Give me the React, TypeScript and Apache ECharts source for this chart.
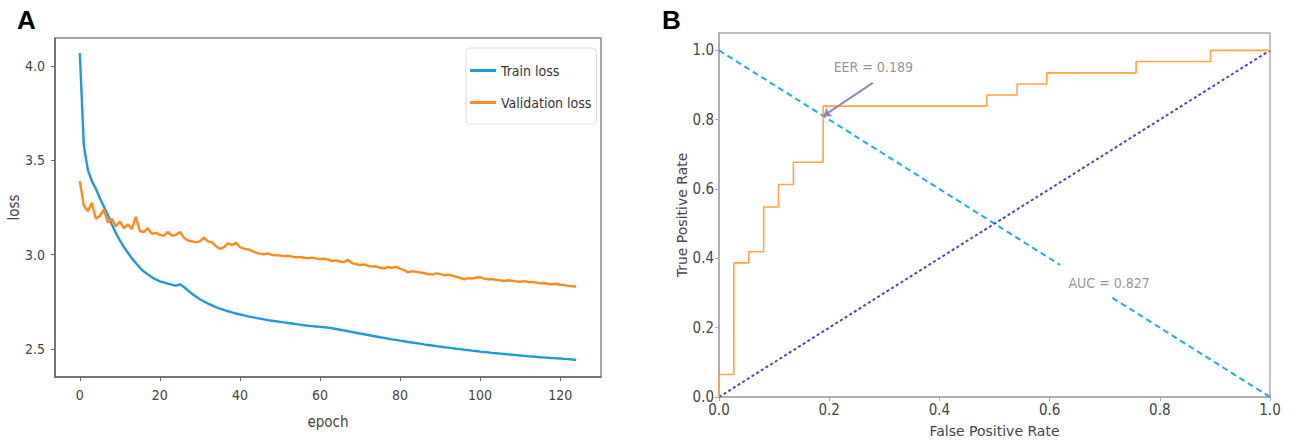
import React, { useEffect, useRef } from "react";
import * as echarts from "echarts";

const epochs: number[] = Array.from({ length: 125 }, (_, i) => i);

const trainLoss: number[] = [
  4.07, 3.58, 3.45, 3.39, 3.35, 3.30, 3.255, 3.21, 3.16, 3.115,
  3.075, 3.04, 3.01, 2.98, 2.955, 2.93, 2.91, 2.895, 2.88, 2.868,
  2.858, 2.852, 2.846, 2.84, 2.835, 2.842, 2.828, 2.81, 2.792, 2.777,
  2.763, 2.751, 2.74, 2.73, 2.721, 2.713, 2.706, 2.699, 2.693, 2.687,
  2.682, 2.677, 2.672, 2.668, 2.664, 2.66, 2.656, 2.652, 2.649, 2.646,
  2.643, 2.64, 2.637, 2.634, 2.631, 2.628, 2.625, 2.622, 2.62, 2.618,
  2.616, 2.614, 2.612, 2.609, 2.605, 2.601, 2.597, 2.593, 2.589, 2.585,
  2.581, 2.577, 2.573, 2.569, 2.565, 2.561, 2.558, 2.554, 2.55, 2.547,
  2.543, 2.54, 2.536, 2.533, 2.53, 2.527, 2.523, 2.52, 2.517, 2.514,
  2.511, 2.508, 2.506, 2.503, 2.5, 2.498, 2.495, 2.493, 2.49, 2.488,
  2.485, 2.483, 2.481, 2.478, 2.476, 2.474, 2.472, 2.47, 2.468, 2.466,
  2.464, 2.462, 2.46, 2.459, 2.457, 2.455, 2.454, 2.452, 2.451, 2.449,
  2.448, 2.446, 2.445, 2.443, 2.441,
];

const validationLoss: number[] = [
  3.39, 3.26, 3.23, 3.275, 3.19, 3.205, 3.24, 3.17, 3.19, 3.15,
  3.175, 3.14, 3.16, 3.135, 3.2, 3.125, 3.12, 3.14, 3.11, 3.115,
  3.105, 3.1, 3.12, 3.1, 3.105, 3.12, 3.09, 3.075, 3.07, 3.065,
  3.07, 3.09, 3.07, 3.065, 3.045, 3.03, 3.04, 3.06, 3.05, 3.062,
  3.04, 3.032, 3.028, 3.02, 3.01, 3.005, 3.002, 3.006, 2.998, 2.996,
  2.995, 2.992, 2.994, 2.989, 2.986, 2.988, 2.983, 2.981, 2.984, 2.979,
  2.976, 2.978, 2.973, 2.966, 2.969, 2.963, 2.96, 2.972, 2.955, 2.95,
  2.944, 2.948, 2.94, 2.936, 2.938, 2.93, 2.927, 2.934, 2.929, 2.935,
  2.925, 2.918, 2.905, 2.912, 2.908, 2.905, 2.902, 2.896, 2.894, 2.9,
  2.896, 2.891, 2.893, 2.888, 2.882, 2.876, 2.869, 2.875, 2.873, 2.878,
  2.88, 2.872, 2.868, 2.87, 2.866, 2.863, 2.86, 2.864, 2.861, 2.858,
  2.856, 2.859, 2.854, 2.855, 2.851, 2.847, 2.849, 2.844, 2.842, 2.845,
  2.84, 2.838, 2.834, 2.832, 2.83,
];

const epochTicks: number[] = [0, 20, 40, 60, 80, 100, 120];
const lossTicks: number[] = [2.5, 3.0, 3.5, 4.0];
const rateTicks: number[] = [0, 0.2, 0.4, 0.6, 0.8, 1.0];

const fpr: number[] = [
  0, 0, 0.027, 0.027, 0.054, 0.054, 0.081, 0.081, 0.108, 0.108, 0.135, 0.135,
  0.189, 0.189, 0.486, 0.486, 0.541, 0.541, 0.595, 0.595, 0.757, 0.757, 0.892, 0.892, 1.0,
];
const tpr: number[] = [
  0, 0.065, 0.065, 0.387, 0.387, 0.419, 0.419, 0.548, 0.548, 0.613, 0.613, 0.677,
  0.677, 0.839, 0.839, 0.871, 0.871, 0.903, 0.903, 0.935, 0.935, 0.968, 0.968, 1.0, 1.0,
];

const chanceLine: number[][] = [[0, 0], [1, 1]];
// EER line y = 1 - x, interrupted where the AUC label box sits
const eerLineUpper: number[][] = [[0, 1], [0.619, 0.381]];
const eerLineLower: number[][] = [[0.714, 0.286], [1, 0]];

const eerLabel = "EER = 0.189";
const aucLabel = "AUC = 0.827";
const eerPoint: number[] = [0.189, 0.81];
const eerTextPos: number[] = [0.28, 0.951];
const eerArrowTail: number[] = [0.279, 0.906];
const aucTextPos: number[] = [0.708, 0.33];

const COND = "'DejaVu Sans Condensed', 'DejaVu Sans', sans-serif";
const SANS = "'DejaVu Sans', sans-serif";

export default function App() {
  const ref = useRef<HTMLDivElement>(null);

  useEffect(() => {
    if (!ref.current) return;
    const chart = echarts.init(ref.current, null, { renderer: "svg" });
    const fmt1 = (v: number) => v.toFixed(1);
    const eerStyle = { width: 2, color: "#1aaee5", type: [6, 4] };

    chart.setOption({
      animation: false,
      backgroundColor: "#ffffff",
      graphic: [
        { type: "text", left: 17, top: 7, style: { text: "A", font: "bold 26px 'Liberation Sans', Arial, sans-serif", fill: "#000" } },
        { type: "text", left: 662, top: 7, style: { text: "B", font: "bold 26px 'Liberation Sans', Arial, sans-serif", fill: "#000" } },
      ],
      legend: {
        data: ["Train loss", "Validation loss"],
        orient: "vertical",
        left: 466,
        top: 48,
        padding: [14, 5, 13, 4],
        itemGap: 15,
        itemWidth: 26,
        itemHeight: 3,
        icon: "rect",
        backgroundColor: "#ffffff",
        borderColor: "#dddddd",
        borderWidth: 1,
        borderRadius: 4,
        textStyle: { fontFamily: COND, fontSize: 14, color: "#333", lineHeight: 17 },
      },
      grid: [
        { left: 55, top: 38, width: 546, height: 339, show: true, borderColor: "#888", borderWidth: 1.5, containLabel: false },
        { left: 719, top: 33, width: 551, height: 364, show: true, borderColor: "#aaa", borderWidth: 1.5, containLabel: false },
      ],
      xAxis: [
        {
          gridIndex: 0,
          type: "value",
          min: -6.2,
          max: 130.2,
          name: "epoch",
          nameLocation: "middle",
          nameGap: 37,
          nameTextStyle: { fontFamily: COND, fontSize: 15, color: "#444" },
          axisLine: { show: true, onZero: false, lineStyle: { color: "#666", width: 1.5 } },
          axisTick: { show: true, length: 4, customValues: epochTicks, lineStyle: { color: "#666" } },
          axisLabel: { customValues: epochTicks, margin: 11, fontFamily: COND, fontSize: 14, color: "#444" },
          splitLine: { show: false },
        },
        {
          gridIndex: 1,
          type: "value",
          min: 0,
          max: 1,
          name: "False Positive Rate",
          nameLocation: "middle",
          nameGap: 27,
          nameTextStyle: { fontFamily: SANS, fontSize: 14, color: "#444" },
          axisLine: { show: true, onZero: false, lineStyle: { color: "#aaa", width: 1.5 } },
          axisTick: { show: true, length: 4, customValues: rateTicks, lineStyle: { color: "#aaa" } },
          axisLabel: { customValues: rateTicks, formatter: fmt1, margin: 5, fontFamily: COND, fontSize: 15, color: "#444" },
          splitLine: { show: false },
        },
      ],
      yAxis: [
        {
          gridIndex: 0,
          type: "value",
          min: 2.35,
          max: 4.15,
          name: "loss",
          nameLocation: "middle",
          nameGap: 34,
          nameTextStyle: { fontFamily: COND, fontSize: 15, color: "#444" },
          axisLine: { show: true, onZero: false, lineStyle: { color: "#666", width: 1.5 } },
          axisTick: { show: true, length: 4, customValues: lossTicks, lineStyle: { color: "#666" } },
          axisLabel: { customValues: lossTicks, formatter: fmt1, margin: 10, fontFamily: COND, fontSize: 14, color: "#444" },
          splitLine: { show: false },
        },
        {
          gridIndex: 1,
          type: "value",
          min: 0,
          max: 1.05,
          name: "True Positive Rate",
          nameLocation: "middle",
          nameGap: 30,
          nameTextStyle: { fontFamily: SANS, fontSize: 14, color: "#444" },
          axisLine: { show: true, onZero: false, lineStyle: { color: "#aaa", width: 1.5 } },
          axisTick: { show: true, length: 4, customValues: rateTicks, lineStyle: { color: "#aaa" } },
          axisLabel: { customValues: rateTicks, formatter: fmt1, margin: 5, fontFamily: COND, fontSize: 15, color: "#444" },
          splitLine: { show: false },
        },
      ],
      series: [
        {
          name: "Train loss",
          type: "line",
          xAxisIndex: 0,
          yAxisIndex: 0,
          data: epochs.map((e, i) => [e, trainLoss[i]]),
          showSymbol: false,
          color: "#1f9ad5",
          lineStyle: { width: 2.4, color: "#1f9ad5" },
        },
        {
          name: "Validation loss",
          type: "line",
          xAxisIndex: 0,
          yAxisIndex: 0,
          data: epochs.map((e, i) => [e, validationLoss[i]]),
          showSymbol: false,
          color: "#ff8a1c",
          lineStyle: { width: 2.4, color: "#ff8a1c" },
        },
        {
          name: "ROC",
          type: "line",
          xAxisIndex: 1,
          yAxisIndex: 1,
          data: fpr.map((f, i) => [f, tpr[i]]),
          showSymbol: false,
          lineStyle: { width: 1.6, color: "#ffa445" },
          z: 3,
        },
        {
          name: "chance",
          type: "line",
          xAxisIndex: 1,
          yAxisIndex: 1,
          data: chanceLine,
          showSymbol: false,
          lineStyle: { width: 2, color: "#4848b8", type: [3, 2.5] },
          z: 2,
        },
        {
          name: "eerUpper",
          type: "line",
          xAxisIndex: 1,
          yAxisIndex: 1,
          data: eerLineUpper,
          showSymbol: false,
          lineStyle: eerStyle,
          z: 1,
        },
        {
          name: "eerLower",
          type: "line",
          xAxisIndex: 1,
          yAxisIndex: 1,
          data: eerLineLower,
          showSymbol: false,
          lineStyle: eerStyle,
          z: 1,
        },
        {
          name: "eerAnnotation",
          type: "scatter",
          xAxisIndex: 1,
          yAxisIndex: 1,
          symbolSize: 0,
          z: 10,
          data: [eerTextPos],
          label: {
            show: true,
            position: "inside",
            formatter: eerLabel,
            fontFamily: COND,
            fontSize: 14,
            color: "#777",
          },
          markLine: {
            silent: true,
            symbol: ["none", "arrow"],
            symbolSize: 8,
            label: { show: false },
            lineStyle: { color: "#9583bf", width: 2, type: "solid" },
            data: [[{ coord: eerArrowTail }, { coord: eerPoint }]],
          },
        },
        {
          name: "aucAnnotation",
          type: "scatter",
          xAxisIndex: 1,
          yAxisIndex: 1,
          symbolSize: 0,
          z: 10,
          data: [aucTextPos],
          label: {
            show: true,
            position: "inside",
            formatter: aucLabel,
            fontFamily: COND,
            fontSize: 14,
            color: "#777",
          },
        },
      ],
    });

    return () => chart.dispose();
  }, []);

  return (
    <div
      ref={ref}
      style={{ position: "fixed", left: 0, top: 0, width: 1294, height: 443, background: "#fff" }}
    />
  );
}
